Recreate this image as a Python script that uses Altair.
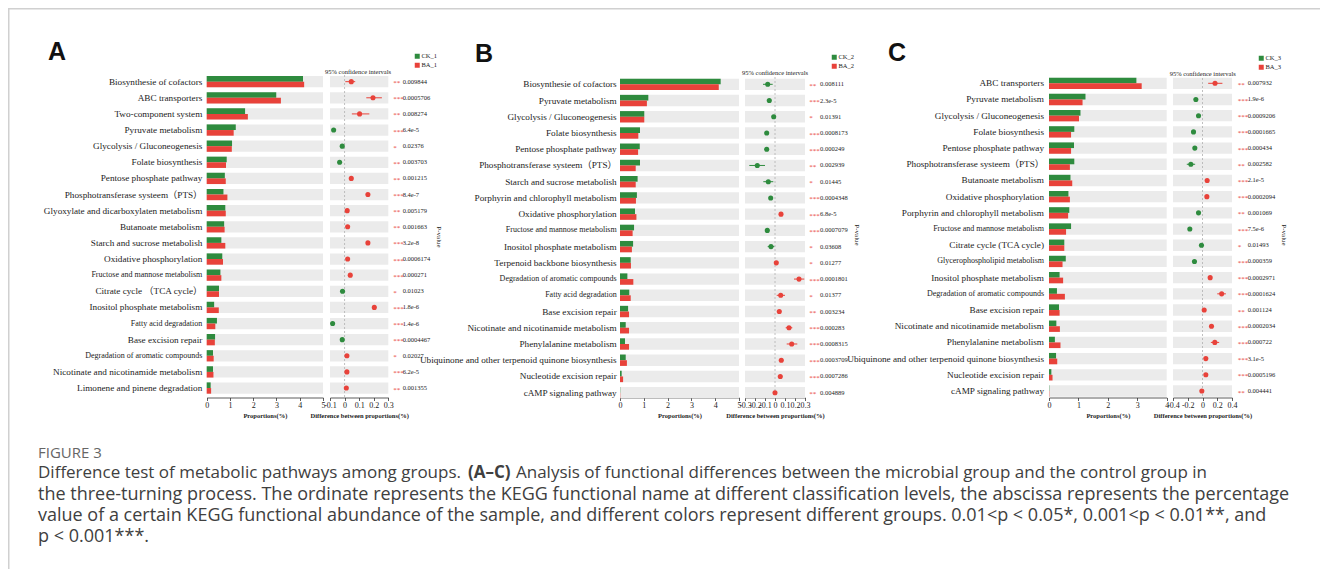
import altair as alt
import pandas as pd

GREEN = "#2e8b3e"
RED = "#e8423a"
BG = "#ebebeb"
SERIF = "Liberation Serif, Times New Roman, Noto Sans CJK SC, serif"
SANS = "Liberation Sans, Arial, sans-serif"
CAPF = "Open Sans, Noto Sans, sans-serif"

# ---------------- Panel A data ----------------
a_paths = ["Biosynthesie of cofactors", "ABC transporters", "Two-component system", "Pyruvate metabolism",
           "Glycolysis / Gluconeogenesis", "Folate biosynthesis", "Pentose phosphate pathway",
           "Phosphotransferase systeem（PTS）", "Glyoxylate and dicarboxylaten metabolism", "Butanoate metabolism",
           "Starch and sucrose metabolish", "Oxidative phosphorylation", "Fructose and mannose metabolism",
           "Citrate cycle （TCA cycle）", "Inositol phosphate metabolism", "Fatty acid degradation",
           "Base excision repair", "Degradation of aromatic compounds", "Nicotinate and nicotinamide metabolism",
           "Limonene and pinene degradation"]
a_ck = [4.14, 2.99, 1.65, 1.25, 1.09, 0.86, 0.78, 0.72, 0.80, 0.75, 0.63, 0.67, 0.59, 0.53, 0.32, 0.44, 0.36, 0.27, 0.27, 0.17]
a_ba = [4.19, 3.19, 1.77, 1.16, 1.08, 0.83, 0.82, 0.89, 0.82, 0.77, 0.80, 0.70, 0.63, 0.53, 0.52, 0.37, 0.35, 0.30, 0.29, 0.19]
a_diff = [0.046, 0.195, 0.103, -0.075, -0.016, -0.034, 0.046, 0.160, 0.018, 0.021, 0.160, 0.021, 0.039, -0.014, 0.204, -0.082, -0.016, 0.016, 0.016, 0.012]
a_lo = [0.005, 0.149, 0.050, -0.080, -0.022, -0.040, 0.040, 0.152, 0.012, 0.015, 0.153, 0.015, 0.033, -0.020, 0.197, -0.087, -0.021, 0.010, 0.011, 0.007]
a_hi = [0.073, 0.256, 0.170, -0.070, -0.010, -0.028, 0.052, 0.168, 0.024, 0.027, 0.167, 0.027, 0.045, -0.008, 0.211, -0.077, -0.011, 0.022, 0.021, 0.017]
a_up = ["BA", "BA", "BA", "CK", "CK", "CK", "BA", "BA", "BA", "BA", "BA", "BA", "BA", "CK", "BA", "CK", "CK", "BA", "BA", "BA"]
a_star = ["**", "***", "**", "***", "*", "**", "**", "***", "**", "**", "***", "***", "***", "*", "***", "***", "***", "*", "***", "**"]
a_p = ["0.009844", "0.0005706", "0.008274", "6.4e-5", "0.02376", "0.003703", "0.001215", "8.4e-7", "0.005179", "0.001663",
       "3.2e-8", "0.0006174", "0.000271", "0.01023", "1.8e-6", "1.4e-6", "0.0004467", "0.02027", "6.2e-5", "0.001355"]

# ---------------- Panel B data ----------------
b_paths = ["Biosynthesie of cofactors", "Pyruvate metabolism", "Glycolysis / Gluconeogenesis", "Folate biosynthesis",
           "Pentose phosphate pathway", "Phosphotransferase systeem（PTS）", "Starch and sucrose metabolish",
           "Porphyrin and chlorophyll metabolism", "Oxidative phosphorylation", "Fructose and mannose metabolism",
           "Inositol phosphate metabolism", "Terpenoid backbone biosynthesis", "Degradation of aromatic compounds",
           "Fatty acid degradation", "Base excision repair", "Nicotinate and nicotinamide metabolism",
           "Phenylalanine metabolism", "Ubiquinone and other terpenoid quinone biosynthesis",
           "Nucleotide excision repair", "cAMP signaling pathway"]
b_ck = [4.23, 1.19, 1.02, 0.84, 0.83, 0.84, 0.74, 0.71, 0.63, 0.59, 0.55, 0.45, 0.31, 0.39, 0.34, 0.24, 0.21, 0.24, 0.07, 0.01]
b_ba = [4.15, 1.13, 1.02, 0.77, 0.76, 0.66, 0.66, 0.67, 0.69, 0.53, 0.50, 0.46, 0.56, 0.45, 0.38, 0.38, 0.38, 0.29, 0.13, 0.01]
b_diff = [-0.073, -0.057, -0.013, -0.083, -0.083, -0.177, -0.067, -0.043, 0.060, -0.077, -0.040, 0.013, 0.240, 0.057, 0.043, 0.140, 0.167, 0.063, 0.053, 0.000]
b_lo = [-0.120, -0.065, -0.021, -0.091, -0.091, -0.257, -0.117, -0.051, 0.052, -0.085, -0.073, 0.005, 0.190, 0.017, 0.035, 0.107, 0.117, 0.055, 0.045, -0.008]
b_hi = [-0.023, -0.049, -0.005, -0.075, -0.075, -0.100, -0.017, -0.035, 0.068, -0.069, -0.007, 0.021, 0.293, 0.100, 0.051, 0.173, 0.223, 0.071, 0.061, 0.008]
b_up = ["CK", "CK", "CK", "CK", "CK", "CK", "CK", "CK", "BA", "CK", "CK", "BA", "BA", "BA", "BA", "BA", "BA", "BA", "BA", "BA"]
b_star = ["**", "***", "*", "***", "***", "**", "*", "***", "***", "***", "*", "*", "***", "*", "**", "***", "***", "***", "***", "**"]
b_p = ["0.008111", "2.3e-5", "0.01391", "0.0008173", "0.000249", "0.002939", "0.01445", "0.0004348", "6.8e-5", "0.0007079",
       "0.03608", "0.01277", "0.0001801", "0.01377", "0.003234", "0.000283", "0.0008315", "0.0003709", "0.0007286", "0.004889"]

# ---------------- Panel C data ----------------
c_paths = ["ABC transporters", "Pyruvate metabolism", "Glycolysis / Gluconeogenesis", "Folate biosynthesis",
           "Pentose phosphate pathway", "Phosphotransferase systeem（PTS）", "Butanoate metabolism",
           "Oxidative phosphorylation", "Porphyrin and chlorophyll metabolism", "Fructose and mannose metabolism",
           "Citrate cycle (TCA cycle)", "Glycerophospholipid metabolism", "Inositol phosphate metabolism",
           "Degradation of aromatic compounds", "Base excision repair", "Nicotinate and nicotinamide metabolism",
           "Phenylalanine metabolism", "Ubiquinone and other terpenoid quinone biosynthesis",
           "Nucleotide excision repair", "cAMP signaling pathway"]
c_ck = [2.97, 1.24, 1.07, 0.86, 0.85, 0.86, 0.73, 0.66, 0.69, 0.75, 0.52, 0.57, 0.36, 0.27, 0.34, 0.25, 0.20, 0.24, 0.08, 0.01]
c_ba = [3.15, 1.14, 1.02, 0.75, 0.75, 0.71, 0.79, 0.71, 0.65, 0.58, 0.52, 0.46, 0.48, 0.54, 0.36, 0.37, 0.39, 0.28, 0.12, 0.01]
c_diff = [0.170, -0.090, -0.054, -0.122, -0.104, -0.158, 0.063, 0.059, -0.054, -0.172, -0.014, -0.109, 0.104, 0.260, 0.023, 0.122, 0.167, 0.045, 0.045, -0.009]
c_lo = [0.077, -0.100, -0.064, -0.132, -0.114, -0.213, 0.053, 0.049, -0.064, -0.182, -0.024, -0.119, 0.094, 0.200, 0.013, 0.112, 0.113, 0.035, 0.035, -0.019]
c_hi = [0.270, -0.080, -0.044, -0.112, -0.094, -0.100, 0.073, 0.069, -0.044, -0.162, -0.004, -0.099, 0.114, 0.317, 0.033, 0.132, 0.226, 0.055, 0.055, 0.001]
c_up = ["BA", "CK", "CK", "CK", "CK", "CK", "BA", "BA", "CK", "CK", "CK", "CK", "BA", "BA", "BA", "BA", "BA", "BA", "BA", "BA"]
c_star = ["**", "***", "***", "***", "***", "**", "***", "***", "**", "***", "*", "***", "***", "***", "**", "***", "***", "***", "***", "**"]
c_p = ["0.007932", "1.9e-6", "0.0009206", "0.0001665", "0.000434", "0.002582", "2.1e-5", "0.0002094", "0.001069", "7.5e-6",
       "0.01493", "0.000359", "0.0002971", "0.0001624", "0.001124", "0.0002034", "0.000722", "3.1e-5", "0.0005196", "0.004441"]

small_labels = ["Fructose and mannose metabolism", "Degradation of aromatic compounds",
                "Glycerophospholipid metabolism", "Fatty acid degradation"]

# caption text
cap_head = "FIGURE 3"
cap_l1a = "Difference test of metabolic pathways among groups."
cap_l1b = "(A–C)"
cap_l1c = "Analysis of functional differences between the microbial group and the control group in"
cap_l2 = "the three-turning process. The ordinate represents the KEGG functional name at different classification levels, the abscissa represents the percentage"
cap_l3 = "value of a certain KEGG functional abundance of the sample, and different colors represent different groups. 0.01<p < 0.05*, 0.001<p < 0.01**, and"
cap_l4 = "p < 0.001***."

# ---------------- layout (view pixel coordinates) ----------------
PAD_IN, PAD_OUT = 0.3, 0.15
LAYOUT = {
    "A": dict(n=1, bx=(198.7, 315.0), bmax=5, bticks=[0, 1, 2, 3, 4, 5],
              cx=(322.0, 380.3), cdom=(-0.1, 0.3), cticks=[-0.1, 0, 0.1, 0.2, 0.3],
              y=(65.6, 388.1), lx=194.3, sx=385.3, px=394.7, pv=(431, 229),
              leg=(406, 45), letter=(40, 52), ctitle=(350, 64), zl=(67, 389)),
    "B": dict(n=2, bx=(612.0, 731.0), bmax=5, bticks=[0, 1, 2, 3, 4, 5],
              cx=(737.0, 797.0), cdom=(-0.3, 0.3), cticks=[-0.3, -0.2, -0.1, 0, 0.1, 0.2, 0.3],
              y=(68.2, 392.8), lx=608.7, sx=801.3, px=812.0, pv=(848.5, 227),
              leg=(823, 46), letter=(467, 53.5), ctitle=(767, 65), zl=(69, 389)),
    "C": dict(n=3, bx=(1041.0, 1158.7), bmax=4, bticks=[0, 1, 2, 3, 4],
              cx=(1165.0, 1224.0), cdom=(-0.4, 0.4), cticks=[-0.4, -0.2, 0, 0.2, 0.4],
              y=(67.2, 391.1), lx=1036.0, sx=1229.7, px=1239.7, pv=(1276, 227),
              leg=(1250, 47), letter=(880, 53), ctitle=(1194.7, 66), zl=(70, 389)),
}

ONE = pd.DataFrame({"k": [0]})


def text_layer(txt, x, y, **kw):
    return alt.Chart(pd.DataFrame({"t": [txt]})).mark_text(**kw).encode(
        x=alt.value(x), y=alt.value(y), text="t:N")


def panel(key, paths, ck, ba, diff, lo, hi, up, star, p):
    c = LAYOUT[key]
    g_ck, g_ba = f"CK_{c['n']}", f"BA_{c['n']}"
    rows = pd.DataFrame({"path": paths, "diff": diff, "lo": lo, "hi": hi,
                         "up": [g_ck if u == "CK" else g_ba for u in up],
                         "star": star, "p": p})
    ck_df = pd.DataFrame({"path": paths, "grp": [g_ck] * len(paths), "val": ck})
    ba_df = pd.DataFrame({"path": paths, "grp": [g_ba] * len(paths), "val": ba})
    step = (c["y"][1] - c["y"][0]) / (len(paths) - PAD_IN + 2 * PAD_OUT)
    bw = step * (1 - PAD_IN)
    ys = alt.Scale(domain=paths, range=list(c["y"]), paddingInner=PAD_IN, paddingOuter=PAD_OUT)
    bxs = alt.Scale(domain=[0, c["bmax"]], range=list(c["bx"]), nice=False, zero=False)
    cxs = alt.Scale(domain=list(c["cdom"]), range=list(c["cx"]), nice=False, zero=False)
    col = alt.Scale(domain=[g_ck, g_ba], range=[GREEN, RED])

    def Y():
        return alt.Y("path:N", scale=ys, axis=None)

    layers = []
    layers.append(alt.Chart(rows).mark_bar(color=BG).encode(
        y=Y(),
        x=alt.XDatum(0, type="quantitative", scale=bxs,
                     axis=alt.Axis(orient="bottom", values=c["bticks"], labelExpr="'' + datum.value",
                                   title="Proportions(%)")),
        x2=alt.X2Datum(c["bmax"])))
    layers.append(alt.Chart(ck_df).mark_bar(height=bw / 2, yOffset=-bw / 4).encode(
        y=Y(),
        x=alt.X("val:Q", scale=bxs, axis=None),
        color=alt.Color("grp:N", scale=col,
                        legend=alt.Legend(orient="none", legendX=c["leg"][0], legendY=c["leg"][1], title=None,
                                          symbolType="square", symbolSize=25, symbolStrokeWidth=0,
                                          labelFont=SERIF, labelFontSize=6.5, labelColor="#222",
                                          labelOffset=1, rowPadding=2, padding=0))))
    layers.append(alt.Chart(ba_df).mark_bar(height=bw / 2, yOffset=bw / 4).encode(
        y=Y(),
        x=alt.X("val:Q", scale=bxs, axis=None),
        color=alt.Color("grp:N", scale=col, legend=None)))
    layers.append(alt.Chart(rows).mark_bar(color=BG).encode(
        y=Y(),
        x=alt.XDatum(c["cdom"][0], type="quantitative", scale=cxs,
                     axis=alt.Axis(orient="bottom", values=c["cticks"], labelExpr="'' + datum.value",
                                   title="Difference between proportions(%)")),
        x2=alt.X2Datum(c["cdom"][1])))
    layers.append(alt.Chart(ONE).mark_rule(color="#b0b0b0", strokeDash=[2, 2], strokeWidth=0.8).encode(
        x=alt.XDatum(0, type="quantitative", scale=cxs, axis=None),
        y=alt.value(c["zl"][0]), y2=alt.value(c["zl"][1])))
    layers.append(alt.Chart(rows).mark_rule(strokeWidth=1).encode(
        y=Y(),
        x=alt.X("lo:Q", scale=cxs, axis=None), x2="hi:Q",
        color=alt.Color("up:N", scale=col, legend=None)))
    layers.append(alt.Chart(rows).mark_circle(size=26, opacity=1).encode(
        y=Y(),
        x=alt.X("diff:Q", scale=cxs, axis=None),
        color=alt.Color("up:N", scale=col, legend=None)))
    layers.append(alt.Chart(rows).mark_text(align="left", baseline="middle", font=SERIF, fontSize=7,
                                            color=RED, dy=1.5).encode(
        y=Y(), x=alt.value(c["sx"]), text="star:N"))
    layers.append(alt.Chart(rows).mark_text(align="left", baseline="middle", font=SERIF, fontSize=6.5,
                                            color="#222").encode(
        y=Y(), x=alt.value(c["px"]), text="p:N"))
    layers.append(alt.Chart(rows).mark_text(align="right", baseline="middle", font=SERIF, color="#222").encode(
        y=Y(), x=alt.value(c["lx"]), text="path:N",
        size=alt.condition(alt.FieldOneOfPredicate(field="path", oneOf=small_labels),
                           alt.value(8), alt.value(9.2))))
    layers.append(text_layer("95% confidence intervals", c["ctitle"][0], c["ctitle"][1],
                             font=SERIF, fontSize=6.5, color="#222", align="center", baseline="middle"))
    layers.append(text_layer("P-value", c["pv"][0], c["pv"][1], font=SERIF, fontSize=7, color="#222",
                             align="center", baseline="middle", angle=90))
    layers.append(text_layer(key, c["letter"][0], c["letter"][1], font=SANS, fontSize=25,
                             fontWeight="bold", color="#111", align="left", baseline="alphabetic"))
    return layers


layers = []
layers += panel("A", a_paths, a_ck, a_ba, a_diff, a_lo, a_hi, a_up, a_star, a_p)
layers += panel("B", b_paths, b_ck, b_ba, b_diff, b_lo, b_hi, b_up, b_star, b_p)
layers += panel("C", c_paths, c_ck, c_ba, c_diff, c_lo, c_hi, c_up, c_star, c_p)

# frame lines
layers.append(alt.Chart(ONE).mark_rule(color="#d0d0d0", strokeWidth=1.5).encode(
    x=alt.value(0), x2=alt.value(1312), y=alt.value(0.75)))
layers.append(alt.Chart(ONE).mark_rule(color="#d0d0d0", strokeWidth=1.5).encode(
    x=alt.value(0.75), y=alt.value(0), y2=alt.value(561)))

# caption
CAP_COL = "#404040"
layers.append(text_layer(cap_head, 30, 445, font=CAPF, fontSize=15, color="#666", align="left", baseline="middle"))
layers.append(text_layer(cap_l1a, 30, 465, font=CAPF, fontSize=17, color=CAP_COL, align="left", baseline="middle"))
layers.append(text_layer(cap_l1b, 460, 465, font=CAPF, fontSize=17, fontWeight="bold", color=CAP_COL,
                         align="left", baseline="middle"))
layers.append(text_layer(cap_l1c, 508, 465, font=CAPF, fontSize=17, color=CAP_COL, align="left", baseline="middle"))
layers.append(text_layer(cap_l2, 30, 487, font=CAPF, fontSize=18, color=CAP_COL, align="left", baseline="middle"))
layers.append(text_layer(cap_l3, 30, 508, font=CAPF, fontSize=18, color=CAP_COL, align="left", baseline="middle"))
layers.append(text_layer(cap_l4, 30, 529, font=CAPF, fontSize=18, color=CAP_COL, align="left", baseline="middle"))

chart = alt.layer(*layers).resolve_scale(
    x="independent", y="independent", color="independent"
).properties(
    width=1312, height=389.5,
    autosize=alt.AutoSizeParams(type="none"),
    padding={"left": 0, "top": 0, "right": 0, "bottom": 171.5},
).configure_view(stroke=None).configure_axis(
    labelFont=SERIF, labelFontSize=8, labelColor="#222", labelPadding=1,
    tickSize=3, tickColor="#333", tickWidth=0.8, domainColor="#333", domainWidth=0.8,
    titleFont=SERIF, titleFontSize=6.5, titleFontWeight="bold", titleColor="#222", titlePadding=3,
    grid=False, labelOverlap=False, labelFlush=False,
)

chart.save("out.html", embed_options={"renderer": "svg", "actions": False})
